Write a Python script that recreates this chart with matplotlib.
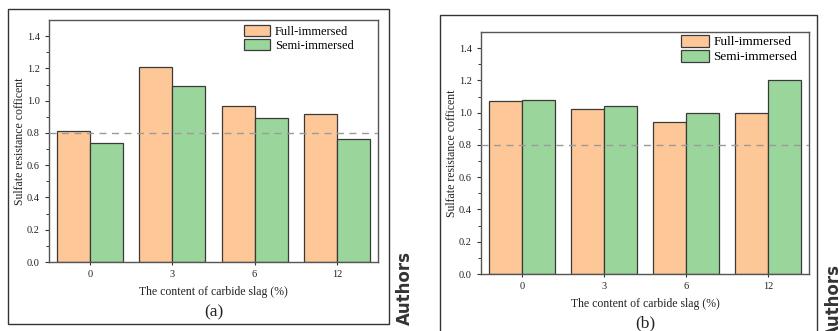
import matplotlib.pyplot as plt
import numpy as np
from matplotlib.patches import Rectangle

plt.rcParams['font.family'] = ['Liberation Serif', 'DejaVu Serif']

categories = ['0', '3', '6', '12']
full_a = [0.81, 1.21, 0.97, 0.92]
semi_a = [0.74, 1.09, 0.89, 0.76]
full_b = [1.07, 1.02, 0.94, 1.00]
semi_b = [1.08, 1.04, 1.00, 1.20]
threshold = 0.8

W, H = 839, 331
fig = plt.figure(figsize=(W / 100, H / 100), dpi=100)

orange = '#FEC797'
green = '#9AD69C'
edge = '#3a3a3a'


def px(x0, y0, x1, y1):
    # pixel box (top-left origin) -> figure fraction
    return [x0 / W, 1 - y1 / H, (x1 - x0) / W, (y1 - y0) / H]


def panel(box, outer, full, semi, tag, legsize, legpos):
    ax = fig.add_axes(px(*box))
    x = np.arange(len(categories))
    ax.bar(x - 0.2, full, 0.4, color=orange, edgecolor=edge, linewidth=0.9, label='Full-immersed')
    ax.bar(x + 0.2, semi, 0.4, color=green, edgecolor=edge, linewidth=0.9, label='Semi-immersed')
    ax.axhline(threshold, color='#9a9a9a', linestyle=(0, (5, 4)), linewidth=1.0, zorder=3)
    ax.set_xlim(-0.5, 3.5)
    ax.set_ylim(0, 1.5)
    ax.set_xticks(x)
    ax.set_xticklabels(categories)
    ax.set_yticks(np.arange(0, 1.41, 0.2))
    ax.set_yticks(np.arange(0.1, 1.5, 0.2), minor=True)
    ax.tick_params(axis='both', which='major', labelsize=7.5, length=3, width=0.8, colors='#333333', labelcolor='#222222')
    ax.tick_params(axis='y', which='minor', length=2, width=0.7, colors='#333333')
    ax.tick_params(axis='x', which='major', length=2)
    for s in ax.spines.values():
        s.set_color('#555555')
        s.set_linewidth(1.0)
    ax.set_ylabel('Sulfate resistance cofficent', fontsize=8.5, labelpad=1, color='#222222')
    ax.set_xlabel('The content of carbide slag (%)', fontsize=8.5, labelpad=5, color='#222222')
    # legend anchored at the top-left of the first patch
    lx = (legpos[0] - box[0]) / (box[2] - box[0])
    ly = (box[3] - legpos[1]) / (box[3] - box[1])
    ax.legend(loc='upper left', bbox_to_anchor=(lx, ly), frameon=False, fontsize=legsize,
              handlelength=2.1, handleheight=1.0, handletextpad=0.35, borderaxespad=0,
              borderpad=0, labelspacing=0.1)
    # outer frame
    fig.patches.append(Rectangle((outer[0] / W, 1 - outer[3] / H), (outer[2] - outer[0]) / W,
                                 (outer[3] - outer[1]) / H, transform=fig.transFigure,
                                 fill=False, edgecolor='#333333', linewidth=1.0))
    fig.text((box[0] + box[2]) / 2 / W, 1 - tag[1] / H, tag[0], ha='center', va='center',
             fontsize=12.5, color='#222222')
    return ax


panel((49, 20, 378, 262), (8, 9, 389, 324), full_a, semi_a, ('(a)', 312), 9, (244, 25))
panel((481, 32, 809, 274), (440, 15, 817, 345), full_b, semi_b, ('(b)', 323), 9.5, (681, 35))

fig.text(405 / W, 1 - 325 / H, 'Authors', rotation=90, ha='center', va='bottom',
         fontsize=12, fontweight='bold', color='#333333', family='DejaVu Sans')
fig.text(834 / W, 1 - 338 / H, 'Authors', rotation=90, ha='center', va='bottom',
         fontsize=12, fontweight='bold', color='#333333', family='DejaVu Sans')

fig.savefig('out.png', dpi=100)
